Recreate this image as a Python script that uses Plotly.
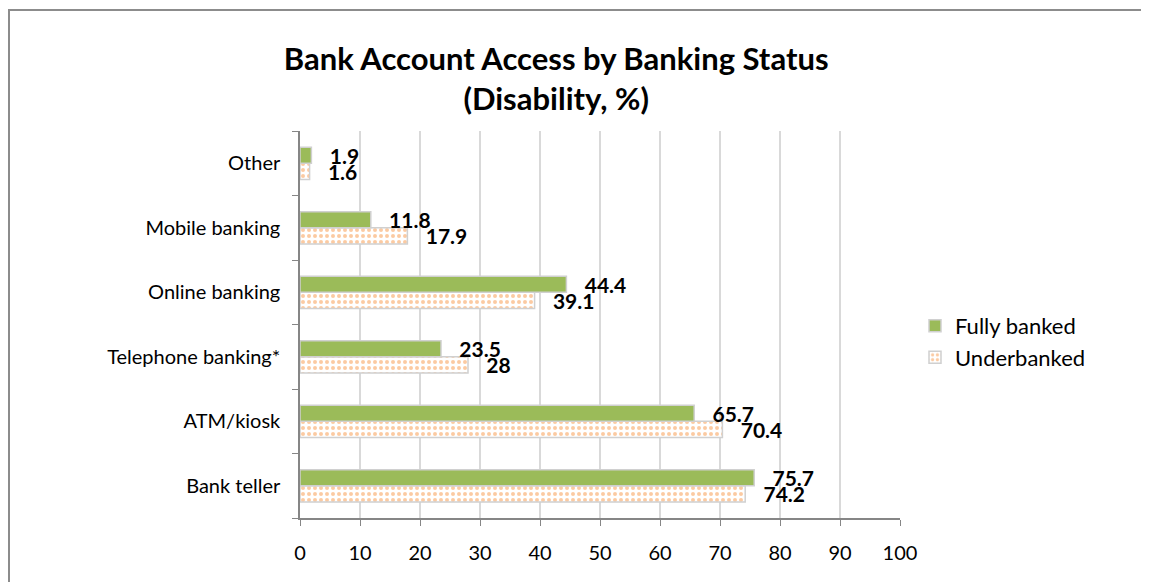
import plotly.graph_objects as go

categories = ["Bank teller", "ATM/kiosk", "Telephone banking*",
              "Online banking", "Mobile banking", "Other"]
fully_banked = [75.7, 65.7, 23.5, 44.4, 11.8, 1.9]
underbanked = [74.2, 70.4, 28, 39.1, 17.9, 1.6]
x_ticks = list(range(0, 101, 10))

W, H = 1149, 582
L, R, T, B = 292, 257, 123, 72
PW, PH = W - L - R, H - T - B
FONT = "Lato, 'Open Sans', sans-serif"
GREEN = "#9BBB59"
ORANGE = "#F79646"
PAD = "\u00a0\u00a0\u00a0"


def lbl(vals):
    return [PAD + f"{v:g}" for v in vals]


label_font = dict(family=FONT, size=21, color="black", weight="bold")

fig = go.Figure()
fig.add_trace(go.Bar(
    y=categories, x=underbanked, orientation="h", name="Underbanked",
    marker=dict(color="white", line=dict(color="#d0d0d0", width=1.5),
                pattern=dict(shape=".", fgcolor=ORANGE, bgcolor="white",
                             size=6, solidity=0.35, fillmode="overlay")),
    text=lbl(underbanked), textposition="outside", cliponaxis=False,
    constraintext="none", textfont=label_font, legendrank=2,
))
fig.add_trace(go.Bar(
    y=categories, x=fully_banked, orientation="h", name="Fully banked",
    marker=dict(color=GREEN, line=dict(color="#d0d0d0", width=1.5)),
    text=lbl(fully_banked), textposition="outside", cliponaxis=False,
    constraintext="none", textfont=label_font, legendrank=1,
))

# outer chart border (only top and left edges fall inside the window)
fig.add_shape(type="rect", xref="paper", yref="paper",
              x0=(1 - L) / PW, x1=(W + 20 - L) / PW,
              y0=(H - B - (H + 20)) / PH, y1=(H - B - 2) / PH,
              line=dict(color="#8c8c8c", width=2), layer="below")

fig.update_layout(
    width=W, height=H,
    margin=dict(l=L, r=R, t=T, b=B),
    paper_bgcolor="white", plot_bgcolor="white",
    barmode="group", bargap=0.5, bargroupgap=0.0,
    title=dict(text="<b>Bank Account Access by Banking Status<br>(Disability, %)</b>",
               x=0.427, xref="paper", xanchor="center", y=0.894, yanchor="middle",
               font=dict(family=FONT, size=31, color="black")),
    font=dict(family=FONT, size=20, color="black"),
    legend=dict(x=1.025, y=0.455, xanchor="left", yanchor="middle",
                font=dict(family=FONT, size=22, color="black"),
                itemwidth=30),
    showlegend=True,
)
fig.update_xaxes(range=[0, 100], tickvals=x_ticks, showgrid=True,
                 gridcolor="#d9d9d9", gridwidth=1.5, zeroline=False,
                 showline=True, linecolor="#868686", linewidth=1.5,
                 ticks="outside", ticklen=6, tickcolor="#868686",
                 ticklabelstandoff=10, tickfont=dict(size=20))
fig.update_yaxes(categoryorder="array", categoryarray=categories,
                 showline=True, linecolor="#868686", linewidth=1.5,
                 ticks="outside", ticklen=6, tickcolor="#868686",
                 tickson="boundaries", showgrid=False, ticklabelstandoff=14,
                 tickfont=dict(size=20))

fig.write_html("out.html")
